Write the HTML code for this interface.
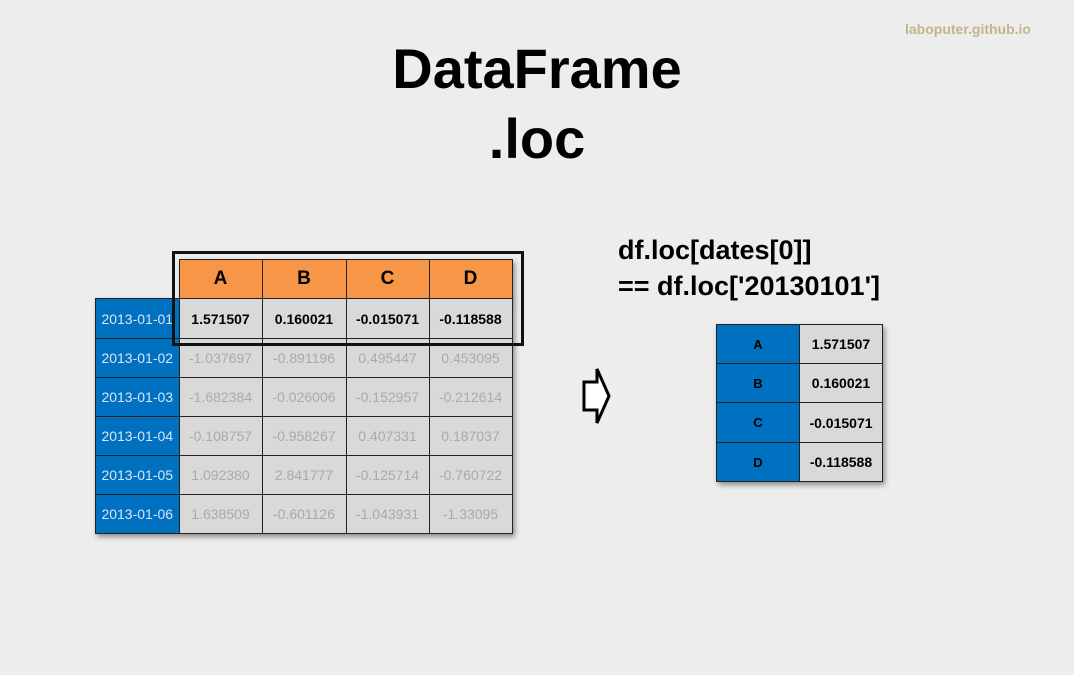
<!DOCTYPE html>
<html><head><style>
body{margin:0;width:1074px;height:675px;background:#ededed;position:relative;overflow:hidden;font-family:"Liberation Sans",sans-serif}
.abs{position:absolute}
table{border-collapse:collapse;position:absolute}
td{border:1.5px solid #222;padding:0;text-align:center;font-size:14px;white-space:nowrap;overflow:hidden}
.h{background:#f79646;font-weight:bold;font-size:19px}
.l{background:#0070c0;color:#d8e6f5;font-size:14px}
.v{background:#d9d9d9;color:#aaa}
.b{color:#000;font-weight:bold}
.sh{position:absolute;box-shadow:2px 3px 5px rgba(0,0,0,.4);background:#d9d9d9}
</style></head><body>
<div class="abs" style="left:905px;top:21px;color:#c4b48a;font-weight:bold;font-size:14px">laboputer.github.io</div>
<div class="abs" style="left:0;width:1074px;top:34px;text-align:center;font-weight:bold;font-size:56px;line-height:70px">DataFrame<br>.loc</div>
<div class="sh" style="left:180px;top:259px;width:333px;height:40px"></div>
<div class="sh" style="left:95px;top:298px;width:418px;height:236px"></div>
<div class="sh" style="left:716px;top:324px;width:167px;height:158px"></div>
<div class="abs" style="left:172px;top:251px;width:346px;height:89px;border:3px solid #111;z-index:2"></div>
<table style="left:95px;top:259px">
<tr style="height:39px"><td style="border:none;background:none;width:83px"></td><td class="h" style="width:82px">A</td><td class="h" style="width:83px">B</td><td class="h" style="width:82px">C</td><td class="h" style="width:82px">D</td></tr>
<tr style="height:40px"><td class="l">2013-01-01</td><td class="v b">1.571507</td><td class="v b">0.160021</td><td class="v b">-0.015071</td><td class="v b">-0.118588</td></tr>
<tr style="height:39px"><td class="l">2013-01-02</td><td class="v">-1.037697</td><td class="v">-0.891196</td><td class="v">0.495447</td><td class="v">0.453095</td></tr>
<tr style="height:39px"><td class="l">2013-01-03</td><td class="v">-1.682384</td><td class="v">-0.026006</td><td class="v">-0.152957</td><td class="v">-0.212614</td></tr>
<tr style="height:39px"><td class="l">2013-01-04</td><td class="v">-0.108757</td><td class="v">-0.958267</td><td class="v">0.407331</td><td class="v">0.187037</td></tr>
<tr style="height:39px"><td class="l">2013-01-05</td><td class="v">1.092380</td><td class="v">2.841777</td><td class="v">-0.125714</td><td class="v">-0.760722</td></tr>
<tr style="height:39px"><td class="l">2013-01-06</td><td class="v">1.638509</td><td class="v">-0.601126</td><td class="v">-1.043931</td><td class="v">-1.33095</td></tr>
</table>
<div class="abs" style="left:618px;top:232px;font-size:27px;font-weight:bold;line-height:36px">df.loc[dates[0]]<br>== df.loc['20130101']</div>
<svg class="abs" style="left:578px;top:365px" width="40" height="65"><polygon points="6,17 19,17 19,4 31,31 19,58 19,45 6,45" fill="#fff" stroke="#000" stroke-width="3"/></svg>
<table style="left:716px;top:324px">
<tr style="height:39px"><td class="l b" style="width:82px;color:#000;font-size:13px">A</td><td class="v b" style="width:82px">1.571507</td></tr>
<tr style="height:39px"><td class="l b" style="color:#000;font-size:13px">B</td><td class="v b">0.160021</td></tr>
<tr style="height:40px"><td class="l b" style="color:#000;font-size:13px">C</td><td class="v b">-0.015071</td></tr>
<tr style="height:39px"><td class="l b" style="color:#000;font-size:13px">D</td><td class="v b">-0.118588</td></tr>
</table>
</body></html>
